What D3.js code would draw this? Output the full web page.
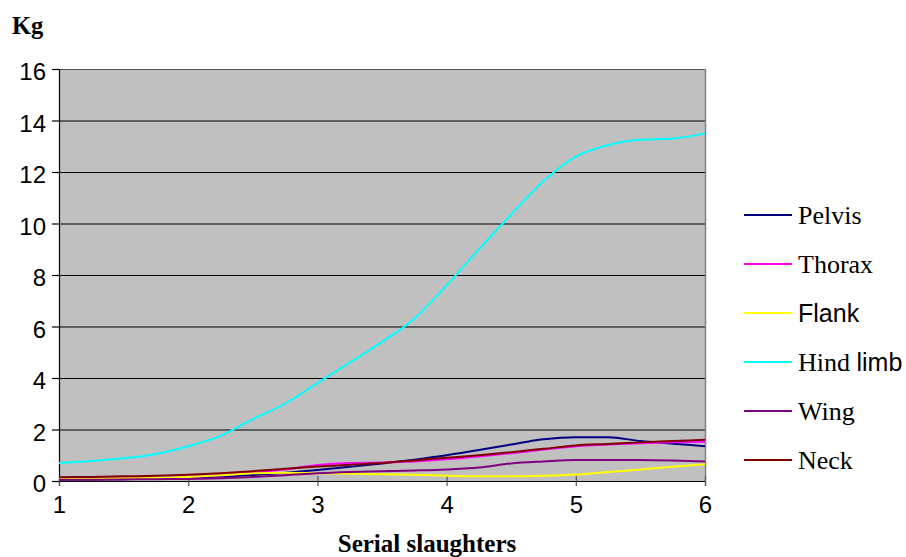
<!DOCTYPE html>
<html>
<head>
<meta charset="utf-8">
<script src="https://cdn.jsdelivr.net/npm/d3@7"></script>
<style>
  html, body { margin: 0; padding: 0; background: #ffffff; }
  svg { display: block; }
</style>
</head>
<body>
<svg id="chart" width="906" height="557"></svg>
<script>
// Slaughter stages, sampled every quarter step
const slaughters = [1, 1.25, 1.5, 1.75, 2, 2.25, 2.5, 2.75, 3, 3.25, 3.5, 3.75, 4, 4.25, 4.5, 4.75, 5, 5.25, 5.5, 5.75, 6];

// Weight (kg) per body region
const pelvis   = [0.05, 0.06, 0.07, 0.09, 0.12, 0.17, 0.23, 0.32, 0.43, 0.55, 0.68, 0.83, 1.0, 1.2, 1.42, 1.62, 1.7, 1.7, 1.55, 1.45, 1.35];
const thorax   = [0.08, 0.09, 0.1, 0.12, 0.16, 0.22, 0.32, 0.45, 0.62, 0.7, 0.72, 0.76, 0.84, 0.95, 1.08, 1.22, 1.35, 1.42, 1.47, 1.5, 1.52];
const flank    = [0.08, 0.09, 0.1, 0.12, 0.16, 0.22, 0.3, 0.32, 0.3, 0.28, 0.26, 0.24, 0.2, 0.18, 0.18, 0.2, 0.25, 0.35, 0.45, 0.55, 0.65];
const hindLimb = [0.7, 0.78, 0.88, 1.05, 1.35, 1.75, 2.4, 3.0, 3.8, 4.6, 5.4, 6.3, 7.6, 9.0, 10.35, 11.65, 12.6, 13.05, 13.25, 13.3, 13.5];
const wing     = [0.05, 0.05, 0.06, 0.07, 0.08, 0.11, 0.16, 0.22, 0.3, 0.35, 0.38, 0.41, 0.45, 0.52, 0.68, 0.76, 0.82, 0.82, 0.82, 0.8, 0.76];
const neck     = [0.15, 0.16, 0.18, 0.2, 0.24, 0.3, 0.38, 0.48, 0.56, 0.63, 0.7, 0.8, 0.9, 1.0, 1.12, 1.25, 1.38, 1.44, 1.5, 1.55, 1.6];

const seriesNames  = ["Pelvis", "Thorax", "Flank", "Hind limb", "Wing", "Neck"];
const seriesValues = [pelvis, thorax, flank, hindLimb, wing, neck];
const seriesColors = ["#000080", "#ff00ff", "#ffff00", "#00ffff", "#800080", "#800000"];

const xTicks = [1, 2, 3, 4, 5, 6];
const yTicks = [0, 2, 4, 6, 8, 10, 12, 14, 16];

const svg = d3.select("#chart");
const plot = { left: 59, right: 705, top: 69, bottom: 481 };

const x = d3.scaleLinear().domain([1, 6]).range([plot.left, plot.right]);
const y = d3.scaleLinear().domain([0, 16]).range([plot.bottom, plot.top]);

const serif = "'Liberation Serif', 'Times New Roman', serif";
const sans = "'Liberation Sans', Arial, sans-serif";

// Plot background
svg.append("rect")
  .attr("x", plot.left).attr("y", plot.top)
  .attr("width", plot.right - plot.left).attr("height", plot.bottom - plot.top)
  .attr("fill", "#c0c0c0");

// Horizontal gridlines
svg.append("g").selectAll("line")
  .data(yTicks.filter(d => d > 0))
  .join("line")
  .attr("x1", plot.left).attr("x2", plot.right)
  .attr("y1", d => y(d) + 0.5).attr("y2", d => y(d) + 0.5)
  .attr("stroke", d => d === 16 ? "#555555" : "#000000")
  .attr("stroke-width", 1);

// Right border
svg.append("line")
  .attr("x1", plot.right + 0.5).attr("x2", plot.right + 0.5)
  .attr("y1", plot.top).attr("y2", plot.bottom)
  .attr("stroke", "#808080").attr("stroke-width", 1.5);

// Y axis
const yAxis = svg.append("g")
  .attr("transform", `translate(${plot.left},0)`)
  .call(d3.axisLeft(y).tickValues(yTicks).tickSize(7).tickPadding(6).tickFormat(d3.format("d")));
yAxis.select(".domain").attr("stroke", "#000000").attr("stroke-width", 1.2);
yAxis.selectAll(".tick line").attr("stroke", "#000000").attr("stroke-width", 1.2);
yAxis.selectAll(".tick text")
  .attr("font-family", sans).attr("font-size", 24).attr("fill", "#000000")
  .attr("dy", "0.45em").attr("x", -13);

// X axis
const xAxis = svg.append("g")
  .attr("transform", `translate(0,${plot.bottom})`)
  .call(d3.axisBottom(x).tickValues(xTicks).tickSize(5).tickPadding(6).tickFormat(d3.format("d")));
xAxis.select(".domain").attr("stroke", "#000000").attr("stroke-width", 1.2);
xAxis.selectAll(".tick line").attr("stroke", "#555555").attr("stroke-width", 1.2).attr("y1", -5);
xAxis.selectAll(".tick text")
  .attr("font-family", sans).attr("font-size", 24).attr("fill", "#000000")
  .attr("dy", null).attr("y", 32);

// Series lines
const line = d3.line()
  .x((d, i) => x(slaughters[i]))
  .y(d => y(d))
  .curve(d3.curveMonotoneX);

svg.append("g").selectAll("path")
  .data(seriesValues)
  .join("path")
  .attr("d", d => line(d))
  .attr("fill", "none")
  .attr("stroke", (d, i) => seriesColors[i])
  .attr("stroke-width", 2);

// Axis titles
svg.append("text")
  .attr("x", 12).attr("y", 34)
  .attr("font-family", serif).attr("font-weight", "bold").attr("font-size", 24.5)
  .text("Kg");

svg.append("text")
  .attr("x", 427).attr("y", 552)
  .attr("text-anchor", "middle")
  .attr("font-family", serif).attr("font-weight", "bold").attr("font-size", 25)
  .text("Serial slaughters");

// Legend
const legendY = d3.scalePoint().domain(seriesNames).range([215, 460]);
const legend = svg.append("g").selectAll("g")
  .data(seriesNames)
  .join("g")
  .attr("transform", d => `translate(744,${legendY(d)})`);

legend.append("line")
  .attr("x1", 0).attr("x2", 48)
  .attr("stroke", (d, i) => seriesColors[i]).attr("stroke-width", 2);

const legendText = legend.append("text")
  .attr("x", 54).attr("y", 9)
  .attr("font-family", serif).attr("font-size", 26).attr("fill", "#000000");

legendText.each(function (d) {
  const t = d3.select(this);
  if (d === "Flank") {
    t.append("tspan").attr("font-family", sans).attr("font-size", 25).text("Flank");
  } else if (d === "Hind limb") {
    t.append("tspan").text("Hind ");
    t.append("tspan").attr("font-family", sans).attr("font-size", 25).text("limb");
  } else {
    t.text(d);
  }
});
</script>
</body>
</html>
